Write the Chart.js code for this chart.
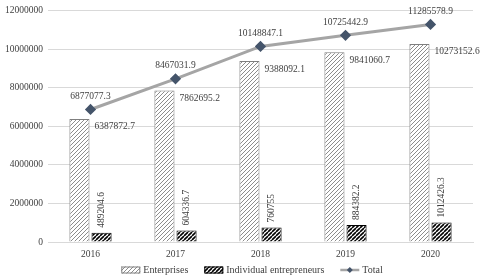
<!DOCTYPE html>
<html lang="en">
<head>
<meta charset="UTF-8">
<title>Enterprises and individual entrepreneurs, 2016-2020</title>
<script src="https://cdn.jsdelivr.net/npm/chart.js@4.4.1/dist/chart.umd.min.js"></script>
<style>
  html, body { margin: 0; padding: 0; background: #fff; }
  #wrap { width: 480px; height: 279px; position: relative; }
</style>
</head>
<body>
<div id="wrap"><canvas id="chart"></canvas></div>
<script>
const years = ['2016', '2017', '2018', '2019', '2020'];
const enterprises = [6387872.7, 7862695.2, 9388092.1, 9841060.7, 10273152.6];
const individuals = [489204.6, 604336.7, 760755, 884382.2, 1012426.3];
const totals = [6877077.3, 8467031.9, 10148847.1, 10725442.9, 11285578.9];
const yTicks = [0, 2000000, 4000000, 6000000, 8000000, 10000000, 12000000];

const FONT = 'Liberation Serif, Times New Roman, serif';
const FS = 9.5;
const canvas = document.getElementById('chart');
const ctx = canvas.getContext('2d');

// diagonal hatch tile, "/" direction
function hatch(color, lw, size) {
  const c = document.createElement('canvas');
  c.width = c.height = size;
  const g = c.getContext('2d');
  g.fillStyle = '#fff';
  g.fillRect(0, 0, size, size);
  g.strokeStyle = color;
  g.lineWidth = lw;
  g.beginPath();
  for (let k = -1; k <= 1; k++) {
    g.moveTo(k * size, size);
    g.lineTo(k * size + size, 0);
  }
  g.stroke();
  return ctx.createPattern(c, 'repeat');
}

const entFill = hatch('#8c8c8c', 1, 4);
const indFill = hatch('#000', 1.6, 4);

// value labels drawn next to each mark
const valueLabels = {
  id: 'valueLabels',
  afterDatasetsDraw(chart) {
    const c = chart.ctx;
    c.save();
    c.font = FS + 'px ' + FONT;
    c.fillStyle = '#404040';

    chart.getDatasetMeta(0).data.forEach((bar, i) => {
      c.textAlign = 'left';
      c.textBaseline = 'middle';
      c.fillText(String(enterprises[i]), bar.x + bar.width / 2 + 5, bar.y + 8);
    });

    chart.getDatasetMeta(1).data.forEach((bar, i) => {
      c.save();
      c.translate(bar.x, bar.y - 5);
      c.rotate(-Math.PI / 2);
      c.textAlign = 'left';
      c.textBaseline = 'middle';
      c.fillText(String(individuals[i]), 0, 0);
      c.restore();
    });

    chart.getDatasetMeta(2).data.forEach((pt, i) => {
      c.textAlign = 'center';
      c.textBaseline = 'middle';
      c.fillText(String(totals[i]), pt.x, pt.y - 13);
    });
    c.restore();
  }
};

// legend along the bottom: hatched boxes and a line with a diamond
const bottomLegend = {
  id: 'bottomLegend',
  afterDraw(chart) {
    const c = chart.ctx;
    const ds = chart.data.datasets;
    const y = 270, gap = 16, iconW = 19, textGap = 3;
    c.save();
    c.font = '10px ' + FONT;
    c.textBaseline = 'middle';
    c.textAlign = 'left';
    const widths = ds.map(d => iconW + textGap + c.measureText(d.label).width);
    const total = widths.reduce((a, b) => a + b, 0) + gap * (ds.length - 1);
    let x = (chart.width - total) / 2 + 12;
    ds.forEach((d, i) => {
      if (d.type === 'bar') {
        c.fillStyle = d.backgroundColor;
        c.fillRect(x, y - 3.5, iconW, 7);
        c.strokeStyle = d.borderColor;
        c.lineWidth = 1;
        c.strokeRect(x + 0.5, y - 3, iconW - 1, 6);
      } else {
        c.strokeStyle = d.borderColor;
        c.lineWidth = 2.5;
        c.beginPath(); c.moveTo(x, y); c.lineTo(x + iconW, y); c.stroke();
        c.fillStyle = d.pointBackgroundColor;
        const mx = x + iconW / 2;
        c.beginPath();
        c.moveTo(mx, y - 3); c.lineTo(mx + 3, y); c.lineTo(mx, y + 3); c.lineTo(mx - 3, y);
        c.closePath(); c.fill();
      }
      c.fillStyle = '#404040';
      c.fillText(d.label, x + iconW + textGap, y);
      x += widths[i] + gap;
    });
    c.restore();
  }
};

new Chart(ctx, {
  data: {
    labels: years,
    datasets: [
      {
        type: 'bar', label: 'Enterprises', data: enterprises,
        backgroundColor: entFill, borderColor: '#7f7f7f', borderWidth: 1,
        categoryPercentage: 0.52, barPercentage: 0.91
      },
      {
        type: 'bar', label: 'Individual entrepreneurs', data: individuals,
        backgroundColor: indFill, borderColor: '#000', borderWidth: 1,
        categoryPercentage: 0.52, barPercentage: 0.91
      },
      {
        type: 'line', label: 'Total', data: totals,
        borderColor: '#a5a5a5', borderWidth: 3,
        pointStyle: 'rectRot', pointRadius: 3.5,
        pointBackgroundColor: '#44546a', pointBorderColor: '#44546a',
        tension: 0
      }
    ]
  },
  options: {
    responsive: true,
    maintainAspectRatio: false,
    animation: false,
    layout: { padding: { left: 0, right: 7, top: 3, bottom: 11.5 } },
    scales: {
      x: {
        grid: { display: false, drawTicks: false },
        border: { color: '#d9d9d9' },
        ticks: { color: '#404040', font: { family: FONT, size: FS }, padding: 7 }
      },
      y: {
        min: 0, max: 12000000,
        afterBuildTicks: s => { s.ticks = yTicks.map(v => ({ value: v })); },
        grid: { color: '#d9d9d9', drawTicks: false },
        border: { display: false },
        ticks: {
          color: '#404040', font: { family: FONT, size: FS }, padding: 5,
          callback: v => String(v)
        }
      }
    },
    plugins: {
      tooltip: { enabled: false },
      legend: { display: false }
    }
  },
  plugins: [valueLabels, bottomLegend]
});
</script>
</body>
</html>
